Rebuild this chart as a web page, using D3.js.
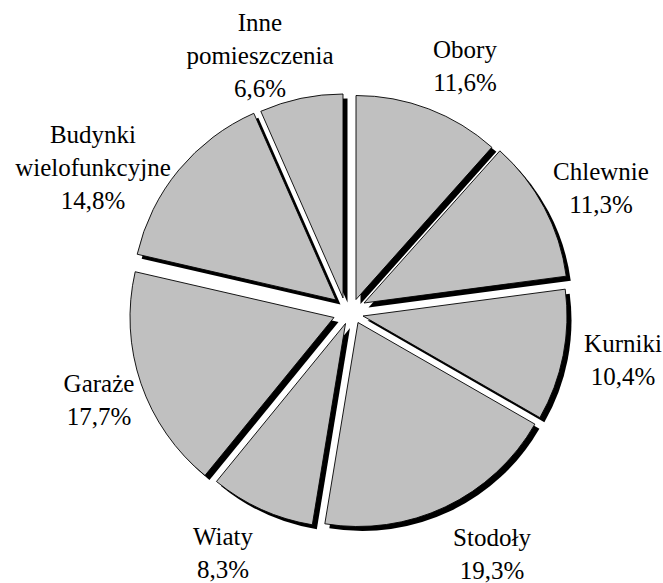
<!DOCTYPE html>
<html>
<head>
<meta charset="utf-8">
<script src="https://cdn.jsdelivr.net/npm/d3@7"></script>
<style>
  html, body { margin: 0; padding: 0; background: #ffffff; }
  svg { display: block; }
</style>
</head>
<body>
<svg id="chart" width="663" height="583"></svg>
<script>
// Share of farm buildings by type (%)
const categories = ["Obory", "Chlewnie", "Kurniki", "Stodoły", "Wiaty", "Garaże", "Budynki wielofunkcyjne", "Inne pomieszczenia"];
const shares = [11.6, 11.3, 10.4, 19.3, 8.3, 17.7, 14.8, 6.6];

// Layout: each slice is pulled out from the pie centre by its own shift (px)
const sliceShift = [[6, -11.5], [14, -8], [13, 5], [8, 11.5], [-4.5, 12.5], [-16, 6.5], [-14, -11], [-7, -13]];
// Label anchors: centre x and baseline of the first line
const labelPos = [[465, 58], [601, 180], [623, 352], [492, 546], [223, 545], [99, 392], [93, 143], [260, 31]];

const cx = 350, cy = 311, radius = 204;
const shadowDx = 4.5, shadowDy = 4.5;
const lineGap = 33;

const svg = d3.select("#chart");
const fmt = v => d3.format(".1f")(v).replace(".", ",") + "%";

const pie = d3.pie().sort(null).value(d => d).startAngle(0).endAngle(2 * Math.PI);
const arcs = pie(shares);
const arc = d3.arc().innerRadius(0).outerRadius(radius);

const g = svg.append("g").attr("transform", `translate(${cx},${cy})`);

// Drop shadows first, so every slice sits on top of all shadows
g.selectAll("path.shadow")
  .data(arcs)
  .join("path")
  .attr("class", "shadow")
  .attr("d", arc)
  .attr("fill", "#000000")
  .attr("transform", (d, i) => `translate(${sliceShift[i][0] + shadowDx},${sliceShift[i][1] + shadowDy})`);

g.selectAll("path.slice")
  .data(arcs)
  .join("path")
  .attr("class", "slice")
  .attr("d", arc)
  .attr("fill", "#c0c0c0")
  .attr("stroke", "#000000")
  .attr("stroke-width", 0.9)
  .attr("stroke-linejoin", "miter")
  .attr("transform", (d, i) => `translate(${sliceShift[i][0]},${sliceShift[i][1]})`);

// Category labels (one text element per line) with the percentage underneath
const labelLines = [];
categories.forEach((name, i) => {
  name.split(" ").concat([fmt(shares[i])]).forEach((ln, k) => {
    labelLines.push({ text: ln, x: labelPos[i][0], y: labelPos[i][1] + k * lineGap });
  });
});

svg.selectAll("text.lbl")
  .data(labelLines)
  .join("text")
  .attr("class", "lbl")
  .attr("x", d => d.x)
  .attr("y", d => d.y)
  .attr("text-anchor", "middle")
  .attr("font-family", "Liberation Serif")
  .attr("font-size", 25)
  .attr("fill", "#000000")
  .text(d => d.text);
</script>
</body>
</html>
